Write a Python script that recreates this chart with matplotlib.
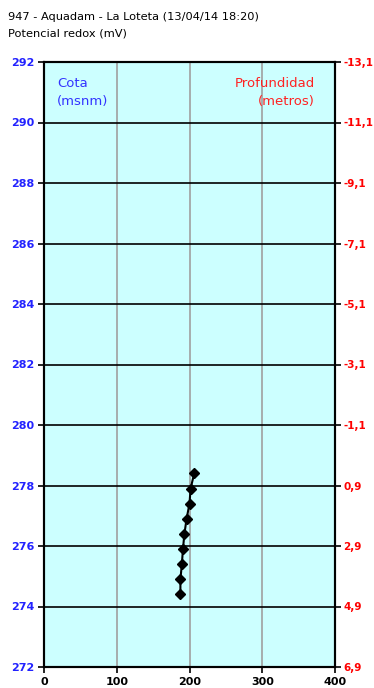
import matplotlib
matplotlib.use("Agg")
import matplotlib.pyplot as plt

# Data
redox = [206.5, 201.5, 200.0, 196.0, 193.0, 191.0, 189.5, 187.5, 187.5]
depth = [0.5, 1.0, 1.5, 2.0, 2.5, 3.0, 3.5, 4.0, 4.5]
surface_elev = 278.9
elev = [surface_elev - d for d in depth]

left_ticks = [272, 274, 276, 278, 280, 282, 284, 286, 288, 290, 292]
right_labels = ["6,9", "4,9", "2,9", "0,9", "-1,1", "-3,1", "-5,1", "-7,1", "-9,1", "-11,1", "-13,1"]
x_ticks = [0, 100, 200, 300, 400]

plt.rcParams['font.family'] = ['DejaVu Sans']

fig = plt.figure(figsize=(3.74, 6.88), dpi=100)
W, H = 374, 688
ax = fig.add_axes([44 / W, (H - 667) / H, 291 / W, 605 / H])
ax.set_facecolor('#CCFFFF')
ax.set_xlim(0, 400)
ax.set_ylim(272, 292)

for xv in x_ticks[1:-1]:
    ax.axvline(xv, color='#A0A0A0', lw=1.2, zorder=1)
for yv in left_ticks[1:-1]:
    ax.axhline(yv, color='black', lw=1.2, zorder=1)

ax.plot(redox, elev, color='black', lw=1.5, marker='D', markersize=5.5,
        markerfacecolor='black', markeredgecolor='black', zorder=3)

ax.set_xticks(x_ticks)
ax.set_xticklabels([str(v) for v in x_ticks], fontsize=8, fontweight='bold')
ax.set_yticks(left_ticks)
ax.set_yticklabels([str(v) for v in left_ticks], fontsize=8, color='#2222FF', fontweight='bold')
ax.tick_params(axis='both', direction='out', length=4, width=1.2, pad=3)

ax2 = ax.twinx()
ax2.set_ylim(272, 292)
ax2.set_yticks(left_ticks)
ax2.set_yticklabels(right_labels, fontsize=7.5, color='#FF0000', fontweight='bold')
ax2.tick_params(axis='y', direction='out', length=4, width=1.2, pad=2)

for a in (ax, ax2):
    for s in a.spines.values():
        s.set_linewidth(1.5)
        s.set_color('black')

ax.text(0.045, 0.975, "Cota\n(msnm)", transform=ax.transAxes, ha='left', va='top',
        color='#3333FF', fontsize=9.5, linespacing=1.5)
ax.text(0.93, 0.975, "Profundidad\n(metros)", transform=ax.transAxes, ha='right', va='top',
        color='#FF2222', fontsize=9.5, linespacing=1.5)

fig.text(8 / W, 1 - 17 / H, "947 - Aquadam - La Loteta (13/04/14 18:20)", fontsize=8.2,
         ha='left', va='center', color='black')
fig.text(8 / W, 1 - 34 / H, "Potencial redox (mV)", fontsize=8.2, ha='left', va='center',
         color='black')

fig.savefig("out.png", dpi=100, facecolor='white')
